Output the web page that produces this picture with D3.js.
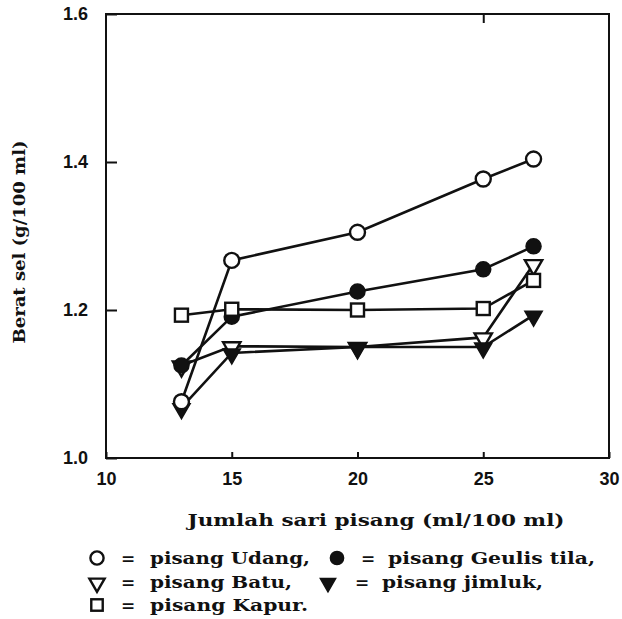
<!DOCTYPE html>
<html>
<head>
<meta charset="utf-8">
<script src="https://cdn.jsdelivr.net/npm/d3@7"></script>
<style>
  body { margin: 0; background: #fff; }
  svg { display: block; }
  .tick text { font-family: "Liberation Sans", Arial, sans-serif; font-weight: bold; font-size: 18px; fill: #111; }
  .tick line { stroke: #111; stroke-width: 2; }
  .lbl { font-family: "DejaVu Serif", serif; font-weight: bold; fill: #111; }
</style>
</head>
<body>
<div id="chart"></div>
<script>
// Jumlah sari pisang (ml/100 ml)
var juiceLevels = [13, 15, 20, 25, 27];

// Berat sel (g/100 ml) per pisang variety
var udang  = [1.076, 1.267, 1.305, 1.377, 1.404];
var geulis = [1.125, 1.191, 1.225, 1.255, 1.286];
var batu   = [1.125, 1.151, 1.150, 1.163, 1.262];
var jimluk = [1.068, 1.142, 1.150, 1.150, 1.193];
var kapur  = [1.193, 1.201, 1.200, 1.202, 1.240];

var xTicks = [10, 15, 20, 25, 30];
var yTicks = [1.0, 1.2, 1.4, 1.6];

var series = [
  {name: "pisang Udang",        values: udang,  marker: "openCircle"},
  {name: "pisang Geulis tila",  values: geulis, marker: "fillCircle"},
  {name: "pisang Batu",         values: batu,   marker: "openTriangle"},
  {name: "pisang jimluk",       values: jimluk, marker: "fillTriangle"},
  {name: "pisang Kapur",        values: kapur,  marker: "openSquare"}
];

// order in which markers get stacked (bottom first), as in the scan
var stackOrder = [2, 3, 1, 0, 4];

var W = 622, H = 619;
var plot = {left: 106, right: 609, top: 14, bottom: 458};

var svg = d3.select("#chart").append("svg")
    .attr("width", W)
    .attr("height", H);

var x = d3.scaleLinear().domain([10, 30]).range([plot.left, plot.right]);
var y = d3.scaleLinear().domain([1.0, 1.6]).range([plot.bottom, plot.top]);

// Axes (ticks point inward)
svg.append("g")
    .attr("class", "axis axis-y")
    .attr("transform", "translate(" + plot.left + ",0)")
    .call(d3.axisLeft(y).tickValues(yTicks).tickFormat(d3.format(".1f")).tickSize(-11).tickPadding(18))
    .call(function(g) { g.select(".domain").remove(); });

svg.append("g")
    .attr("class", "axis axis-x")
    .attr("transform", "translate(0," + plot.bottom + ")")
    .call(d3.axisBottom(x).tickValues(xTicks).tickFormat(d3.format("d")).tickSize(-6).tickPadding(14))
    .call(function(g) { g.select(".domain").remove(); });

// top tick that shows in the scan
svg.append("g")
    .attr("class", "axis axis-top")
    .attr("transform", "translate(0," + plot.top + ")")
    .call(d3.axisTop(x).tickValues([25]).tickFormat("").tickSize(-9))
    .call(function(g) { g.select(".domain").remove(); });

// frame
svg.append("rect")
    .attr("x", plot.left)
    .attr("y", plot.top)
    .attr("width", plot.right - plot.left)
    .attr("height", plot.bottom - plot.top)
    .attr("fill", "none")
    .attr("stroke", "#111")
    .attr("stroke-width", 2);

// Lines
var line = d3.line()
    .x(function(d, i) { return x(juiceLevels[i]); })
    .y(function(d) { return y(d); });

svg.append("g").selectAll("path")
    .data(series)
    .enter().append("path")
    .attr("d", function(s) { return line(s.values); })
    .attr("fill", "none")
    .attr("stroke", "#111")
    .attr("stroke-width", 2.6);

// Markers
function drawMarker(g, type, cx, cy, scale) {
  scale = scale || 1;
  var open = type.indexOf("open") === 0;
  var el;
  if (type === "openCircle" || type === "fillCircle") {
    el = g.append("circle").attr("cx", cx).attr("cy", cy).attr("r", 7.5 * scale);
  } else if (type === "openSquare") {
    var s = 13 * scale;
    el = g.append("rect").attr("x", cx - s / 2).attr("y", cy - s / 2).attr("width", s).attr("height", s);
  } else {
    el = g.append("path")
        .attr("d", d3.symbol().type(d3.symbolTriangle).size(130 * scale * scale)())
        .attr("transform", "translate(" + cx + "," + (cy + 1) + ") rotate(180)");
  }
  el.attr("fill", open ? "#fff" : "#111")
    .attr("stroke", "#111")
    .attr("stroke-width", open ? 2.4 : 1.5);
}

var markers = svg.append("g");
stackOrder.forEach(function(k) {
  var s = series[k];
  s.values.forEach(function(v, i) {
    drawMarker(markers, s.marker, x(juiceLevels[i]), y(v));
  });
});

// Axis titles
svg.append("text")
    .attr("class", "lbl")
    .attr("x", 376)
    .attr("y", 526)
    .attr("text-anchor", "middle")
    .attr("font-size", 17)
    .attr("textLength", 377)
    .attr("lengthAdjust", "spacingAndGlyphs")
    .text("Jumlah sari pisang (ml/100 ml)");

svg.append("text")
    .attr("class", "lbl")
    .attr("transform", "translate(25,242) rotate(-90)")
    .attr("text-anchor", "middle")
    .attr("font-size", 16)
    .attr("textLength", 203)
    .attr("lengthAdjust", "spacingAndGlyphs")
    .text("Berat sel (g/100 ml)");

// Legend
var legendRows = [
  [{s: 0, mx: 97, ex: 128, tx: 150, tw: 160, text: "pisang Udang,"},
   {s: 1, mx: 337, ex: 368, tx: 388, tw: 207, text: "pisang Geulis tila,"}],
  [{s: 2, mx: 97, ex: 128, tx: 150, tw: 142, text: "pisang Batu,"},
   {s: 3, mx: 328, ex: 362, tx: 382, tw: 161, text: "pisang jimluk,"}],
  [{s: 4, mx: 97, ex: 128, tx: 150, tw: 158, text: "pisang Kapur."}]
];
var rowY = [558, 582, 605];

var legend = svg.append("g");
legendRows.forEach(function(row, r) {
  row.forEach(function(item) {
    drawMarker(legend, series[item.s].marker, item.mx, rowY[r], 0.88);
    legend.append("text")
        .attr("class", "lbl")
        .attr("x", item.ex)
        .attr("y", rowY[r] + 6)
        .attr("text-anchor", "middle")
        .attr("font-size", 17)
        .text("=");
    legend.append("text")
        .attr("class", "lbl")
        .attr("x", item.tx)
        .attr("y", rowY[r] + 6)
        .attr("font-size", 17)
        .attr("textLength", item.tw)
        .attr("lengthAdjust", "spacingAndGlyphs")
        .text(item.text);
  });
});
</script>
</body>
</html>
